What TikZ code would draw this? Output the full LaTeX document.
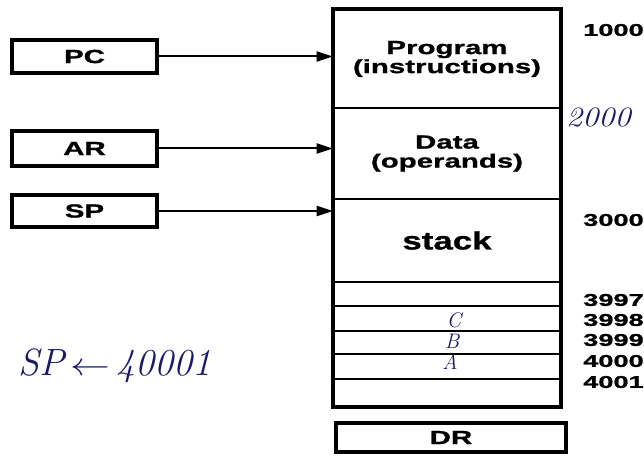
\documentclass[tikz,border=0pt]{standalone}
\usepackage{fontspec}
\setmainfont{Liberation Sans}
\newfontfamily\lblfont[FakeStretch=1.55,FakeBold=1.2]{Liberation Sans}
\newfontfamily\numfont[FakeStretch=1.6,FakeBold=1.2]{Liberation Sans}
\newfontfamily\handfont{Latin Modern Roman}
\usetikzlibrary{arrows.meta}
\definecolor{ink}{HTML}{1C1A66}
\tikzset{
  reg/.style={draw, line width=3.6pt, minimum width=145pt, inner sep=0pt,
    font=\lblfont\bfseries\fontsize{19}{19}\selectfont},
  mem/.style={draw, line width=2.6pt, minimum width=226pt, inner sep=0pt,
    align=center, font=\lblfont\bfseries\fontsize{19}{19}\selectfont},
  addr/.style={anchor=west, inner sep=0pt, font=\numfont\bfseries\fontsize{17}{17}\selectfont},
  hand/.style={inner sep=0pt, text=ink, font=\handfont\itshape\fontsize{21}{21}\selectfont},
  link/.style={line width=2pt, -{Triangle[length=16pt,width=10pt]}}
}
\begin{document}
\begin{tikzpicture}[x=1pt,y=-1pt]
\useasboundingbox[fill=white] (0,0) rectangle (644,457);

% memory regions
\node[mem, minimum height=98pt] (prog) at (447,59) {Program\\(instructions)};
\node[mem, minimum height=91pt] (data) at (447,153.5) {Data\\(operands)};
\node[mem, minimum height=83pt, font=\lblfont\bfseries\fontsize{25}{25}\selectfont] (stack) at (447,240.5) {\scalebox{0.9}[1]{stack}};
\node[mem, minimum height=24pt] (s1) at (447,294) {};
\node[mem, minimum height=25pt] (s2) at (447,318.5) {};
\node[mem, minimum height=23pt] (s3) at (447,342.5) {};
\node[mem, minimum height=25pt] (s4) at (447,366.5) {};
\node[mem, minimum height=27pt] (s5) at (447,392.5) {};
\draw[line width=4.2pt] (prog.north west) rectangle (s5.south east);

% data register below memory
\node[reg, minimum width=230pt, minimum height=29pt] (dr) at (451,437.5) {DR};

% address registers
\node[reg, minimum height=33pt] (pc) at (84.5,56.5) {PC};
\node[reg, minimum height=35pt] (ar) at (84.5,148.5) {AR};
\node[reg, minimum height=32pt] (sp) at (84.5,211) {SP};

\draw[link] (pc.east) -- (pc.east -| prog.west);
\draw[link] (ar.east) -- (ar.east -| data.west);
\draw[link] (sp.east) -- (sp.east -| stack.west);

% addresses
\node[addr] (a1000) at (583,30) {1000};
\node[hand, anchor=west, font=\handfont\itshape\fontsize{28}{28}\selectfont] (a2000) at (566,117) {\scalebox{1.15}[1]{2000}};
\node[addr] (a3000) at (583,220) {3000};
\node[addr] (a3997) at (583,300) {3997};
\node[addr] (a3998) at (583,320) {3998};
\node[addr] (a3999) at (583,340) {3999};
\node[addr] (a4000) at (583,361) {4000};
\node[addr] (a4001) at (583,382) {4001};

% stack contents
\node[hand] (vc) at (454,320) {C};
\node[hand] (vb) at (452,341) {B};
\node[hand] (va) at (450,362) {A};

% note
\node[hand, font=\handfont\itshape\fontsize{38}{38}\selectfont] (note) at (115,366)
  {SP\,\scalebox{1.6}[1.3]{$\leftarrow$}\,40001};
\end{tikzpicture}
\end{document}
